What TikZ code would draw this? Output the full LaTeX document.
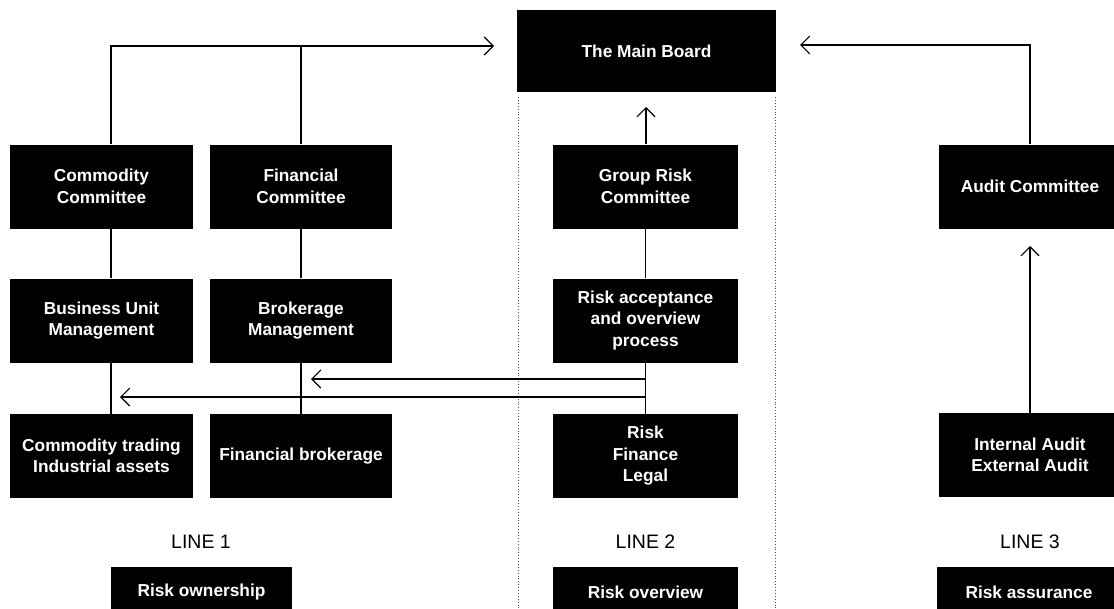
\documentclass[tikz,border=0pt]{standalone}
\usepackage{fontspec}
\setmainfont{Liberation Sans}
\usetikzlibrary{arrows.meta}
\begin{document}
\begin{tikzpicture}[x=1pt,y=-1pt,
  box/.style={fill=black, text=white, inner sep=0pt, align=center,
    font=\bfseries\fontsize{17.3}{21.5}\selectfont, minimum height=84},
  tag/.style={fill=black, text=white, inner sep=0pt, align=center,
    font=\bfseries\fontsize{17.3}{21.5}\selectfont, minimum height=50},
  linelabel/.style={font=\fontsize{19.5}{22}\selectfont, inner sep=0pt},
  conn/.style={line width=1.15pt},
  arr/.style={line width=1.15pt, -{Straight Barb[length=9pt,width=18pt,line width=1.15pt]}},
  sep/.style={dotted, line width=0.9pt, black!70}]
\useasboundingbox (0,0) rectangle (1114,608);
\clip (0,0) rectangle (1114,608);

% separators
\draw[sep] (518,97) -- (518,610);
\draw[sep] (775,97) -- (775,610);

% main board
\node[box, minimum width=259, minimum height=82] (mb) at (646.5,51) {The Main Board};

% row 1
\node[box, minimum width=183] (cc) at (101.5,186.5) {Commodity\\Committee};
\node[box, minimum width=182] (fc) at (301,186.5) {Financial\\Committee};
\node[box, minimum width=185] (grc) at (645.5,186.5) {Group Risk\\Committee};
\node[box, minimum width=182] (ac) at (1030,186.5) {Audit Committee};

% row 2
\node[box, minimum width=183] (bu) at (101.5,320.5) {Business Unit\\Management};
\node[box, minimum width=182] (bm) at (301,320.5) {Brokerage\\Management};
\node[box, minimum width=185] (rac) at (645.5,320.5) {Risk acceptance\\and overview\\process};

% row 3
\node[box, minimum width=183] (ct) at (101.5,456) {Commodity trading\\Industrial assets};
\node[box, minimum width=182] (fb) at (301,456) {Financial brokerage};
\node[box, minimum width=185] (rfl) at (645.5,456) {Risk\\Finance\\Legal};
\node[box, minimum width=182] (ia) at (1030,455) {Internal Audit\\External Audit};

% line labels
\node[linelabel] (l1) at (201,542) {LINE 1};
\node[linelabel] (l2) at (645.5,542) {LINE 2};
\node[linelabel] (l3) at (1030,542) {LINE 3};

% bottom tags
\node[tag, minimum width=181] (ro) at (201.5,592) {Risk ownership};
\node[tag, minimum width=185] (rov) at (645.5,592) {Risk overview};
\node[tag, minimum width=184] (ras) at (1029,592) {Risk assurance};

% coordinates
\coordinate (xa) at (111,46);
\coordinate (tipL) at (494,46);
\coordinate (tipR) at (800,45);
\coordinate (gtip) at (646,107);
\coordinate (atip) at (1030,246);
\coordinate (h1) at (311,379);
\coordinate (h2) at (120,397);

% connectors line 1
\draw[arr] (cc.north -| xa) -- (xa) -- (tipL);
\draw[conn] (fc.north) -- (fc.north |- xa);
\draw[conn] (cc.south -| xa) -- (bu.north -| xa);
\draw[conn] (bu.south -| xa) -- (ct.north -| xa);
\draw[conn] (fc.south) -- (bm.north);
\draw[conn] (bm.south) -- (fb.north);

% connectors line 2
\draw[arr] (grc.north -| gtip) -- (gtip);
\draw[conn] (grc.south) -- (rac.north);
\draw[conn] (rac.south) -- (rfl.north);
\draw[arr] (h1 -| rac.south) -- (h1);
\draw[arr] (h2 -| rac.south) -- (h2);

% connectors line 3
\draw[arr] (ac.north) |- (tipR);
\draw[arr] (ia.north) -- (atip);
\end{tikzpicture}
\end{document}
